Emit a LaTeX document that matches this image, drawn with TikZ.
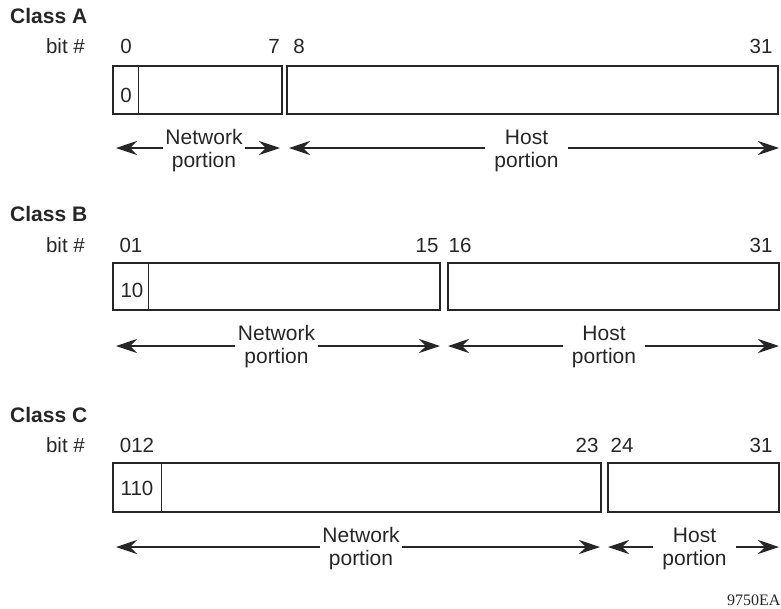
\documentclass[tikz,border=0pt]{standalone}
\usepackage{fontspec}
\setmainfont{Liberation Sans}
\newfontfamily\idfont{Liberation Serif}
\usetikzlibrary{arrows.meta}
\definecolor{ink}{HTML}{262626}
\tikzset{
  field/.style={draw=ink, line width=1.9pt, anchor=north west, inner sep=0pt, outer sep=0pt},
  divider/.style={draw=ink, line width=1pt},
  title/.style={anchor=base west, inner sep=0pt, text=ink, font=\fontsize{21}{23}\selectfont\bfseries},
  bitlbl/.style={anchor=base east, inner sep=0pt, text=ink, font=\fontsize{20.5}{22}\selectfont},
  num/.style={anchor=base, inner sep=0pt, text=ink, font=\fontsize{20.5}{22}\selectfont},
  cellnum/.style={anchor=base, inner sep=0pt, text=ink, font=\fontsize{20.5}{22}\selectfont},
  lbl/.style={align=center, inner sep=0pt, outer sep=0pt, text=ink, font=\fontsize{21}{23}\selectfont},
  arr/.style={draw=ink, line width=1.3pt, -{Stealth[length=21pt,width=14pt,inset=7pt]}}
}
\begin{document}
\begin{tikzpicture}[x=1pt,y=-1pt]
\useasboundingbox (0,0) rectangle (781,608);

% ---------------- Class A ----------------
\node[title] (tA) at (10,23) {Class A};
\node[bitlbl] (bA) at (85,53) {bit \#};
\node[num] (nA0) at (126,53) {0};
\node[num] (nA7) at (274,53) {7};
\node[num] (nA8) at (299,53) {8};
\node[num] (nA31) at (761,53) {31};
\node[field, minimum width=169pt, minimum height=48pt] (A1) at (113,66) {};
\node[field, minimum width=491pt, minimum height=48pt] (A2) at (287,66) {};
\draw[divider] (138,66) -- (138,114);
\node[cellnum] (cA) at (126,102) {0};
\coordinate (ANl) at (116,148);
\coordinate (ANr) at (280,148);
\coordinate (AHl) at (289,148);
\coordinate (AHr) at (779,148);
\node[lbl, minimum width=82pt] (AN) at (204,151) {Network\\portion};
\node[lbl, minimum width=83pt] (AH) at (526.5,151) {Host\\portion};
\draw[arr] (AN.west |- ANl) -- (ANl);
\draw[arr] (AN.east |- ANr) -- (ANr);
\draw[arr] (AH.west |- AHl) -- (AHl);
\draw[arr] (AH.east |- AHr) -- (AHr);

% ---------------- Class B ----------------
\node[title] (tB) at (10,221) {Class B};
\node[bitlbl] (bB) at (85,252) {bit \#};
\node[num] (nB01) at (131,252) {01};
\node[num] (nB15) at (427,252) {15};
\node[num] (nB16) at (460,252) {16};
\node[num] (nB31) at (761,252) {31};
\node[field, minimum width=327pt, minimum height=47pt] (B1) at (113,263) {};
\node[field, minimum width=331pt, minimum height=47pt] (B2) at (448,263) {};
\draw[divider] (148,263) -- (148,310);
\node[cellnum] (cB) at (132,297) {10};
\coordinate (BNl) at (116,346);
\coordinate (BNr) at (440,346);
\coordinate (BHl) at (448,346);
\coordinate (BHr) at (779,346);
\node[lbl, minimum width=83pt] (BN) at (276.5,347) {Network\\portion};
\node[lbl, minimum width=82pt] (BH) at (604,347) {Host\\portion};
\draw[arr] (BN.west |- BNl) -- (BNl);
\draw[arr] (BN.east |- BNr) -- (BNr);
\draw[arr] (BH.west |- BHl) -- (BHl);
\draw[arr] (BH.east |- BHr) -- (BHr);

% ---------------- Class C ----------------
\node[title] (tC) at (10,422) {Class C};
\node[bitlbl] (bC) at (85,452) {bit \#};
\node[num] (nC012) at (137,452) {012};
\node[num] (nC23) at (587,452) {23};
\node[num] (nC24) at (622,452) {24};
\node[num] (nC31) at (761,452) {31};
\node[field, minimum width=488pt, minimum height=49pt] (C1) at (113,463) {};
\node[field, minimum width=171pt, minimum height=49pt] (C2) at (608,463) {};
\draw[divider] (161,463) -- (161,512);
\node[cellnum] (cC) at (137,495) {110};
\coordinate (CNl) at (116,547);
\coordinate (CNr) at (600,547);
\coordinate (CHl) at (608,547);
\coordinate (CHr) at (779,547);
\node[lbl, minimum width=82pt] (CN) at (361,549) {Network\\portion};
\node[lbl, minimum width=83pt] (CH) at (694.5,549) {Host\\portion};
\draw[arr] (CN.west |- CNl) -- (CNl);
\draw[arr] (CN.east |- CNr) -- (CNr);
\draw[arr] (CH.west |- CHl) -- (CHl);
\draw[arr] (CH.east |- CHr) -- (CHr);

% figure id
\node[anchor=base west, inner sep=0pt, text=ink, font=\idfont\fontsize{16}{18}\selectfont] (fid) at (727,605) {9750EA};
\end{tikzpicture}
\end{document}
